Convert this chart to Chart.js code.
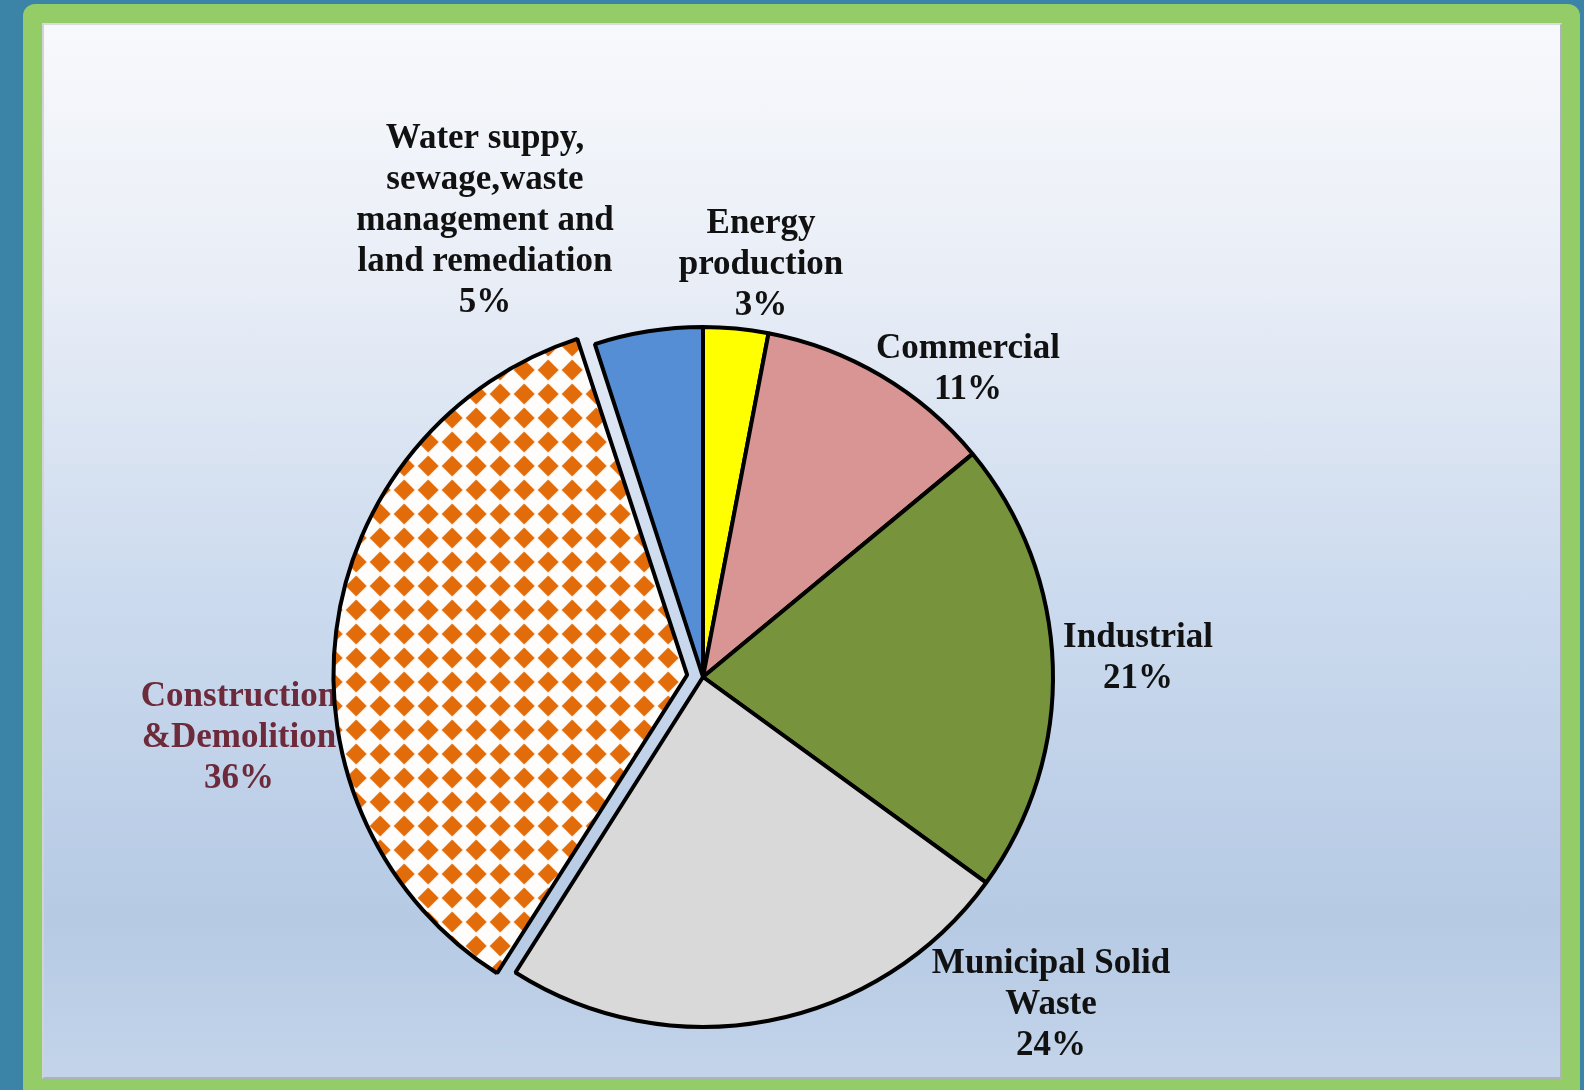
<!DOCTYPE html>
<html>
<head>
<meta charset="utf-8">
<title>Waste by sector</title>
<script src="https://cdn.jsdelivr.net/npm/chart.js@4"></script>
<style>
  html, body { margin: 0; padding: 0; }
  body {
    width: 1584px;
    height: 1090px;
    overflow: hidden;
    position: relative;
    background: #3b84a8;
  }
  #frame {
    position: absolute;
    left: 23px;
    top: 4px;
    width: 1557px;
    height: 1110px;
    background: #94cd68;
    border-radius: 12px;
  }
  #panel {
    position: absolute;
    left: 42px;
    top: 23px;
    width: 1516px;
    height: 1052px;
    border: 2px solid #aeb2b9;
    border-top-color: #d8dbe0;
    border-left-color: #d0d3d8;
    background: linear-gradient(to bottom, #f8f9fc 0%, #e8edf6 25%, #cbdaee 55%, #b6cae4 85%, #c3d4ea 100%);
  }
  #chart {
    position: absolute;
    left: 0;
    top: 0;
  }
</style>
</head>
<body>
<div id="frame"></div>
<div id="panel"></div>
<canvas id="chart" width="1584" height="1090"></canvas>
<script>
// Sectors, clockwise from 12 o'clock
const categories = [
    'Energy production',
    'Commercial',
    'Industrial',
    'Municipal Solid Waste',
    'Construction & Demolition',
    'Water suppy, sewage, waste management and land remediation'
];
const shares = [3, 11, 21, 24, 36, 5];

// How each label is broken into lines (last line is the percentage)
const labelLines = [
    ['Energy', 'production'],
    ['Commercial'],
    ['Industrial'],
    ['Municipal Solid', 'Waste'],
    ['Construction', '&Demolition'],
    ['Water suppy,', 'sewage,waste', 'management and', 'land remediation']
];

// Styles
const sliceColors = ['#ffff00', '#d99594', '#77933c', '#d9d9d9', null, '#558ed5'];
const labelColors = ['#111111', '#111111', '#111111', '#111111', '#6d2a3a', '#111111'];
// first-line centre of each label, relative to the pie centre
const labelOffsets = [[58, -453], [265, -328], [435, -39], [348, 287], [-464, 20], [-218, -538]];
const lineHeight = 41;

// orange diamond pattern for the construction slice
function diamondPattern() {
    const tile = document.createElement('canvas');
    tile.width = 24;
    tile.height = 24;
    const c = tile.getContext('2d');
    c.fillStyle = '#fffdfb';
    c.fillRect(0, 0, 24, 24);
    c.fillStyle = '#e36c0a';
    c.beginPath();
    c.moveTo(12, 1.5);
    c.lineTo(22.5, 12);
    c.lineTo(12, 22.5);
    c.lineTo(1.5, 12);
    c.closePath();
    c.fill();
    return c.createPattern(tile, 'repeat');
}

const ctx = document.getElementById('chart').getContext('2d');
const colors = sliceColors.map(col => col || diamondPattern());
const offsets = shares.map((v, i) => (i === 4 ? 64 : 0));

// draws the sector labels behind the slices
const sectorLabels = {
    id: 'sectorLabels',
    beforeDatasetsDraw(chart) {
        const meta = chart.getDatasetMeta(0);
        const c = chart.ctx;
        c.save();
        c.font = 'bold 35px "Liberation Serif", "Times New Roman", serif';
        c.textAlign = 'center';
        c.textBaseline = 'middle';
        meta.data.forEach((arc, i) => {
            const lines = labelLines[i].concat([shares[i] + '%']);
            const x = arc.x + labelOffsets[i][0];
            let y = arc.y + labelOffsets[i][1];
            c.fillStyle = labelColors[i];
            lines.forEach(line => {
                c.fillText(line, x, y);
                y += lineHeight;
            });
        });
        c.restore();
    }
};

new Chart(ctx, {
    type: 'pie',
    data: {
        labels: categories,
        datasets: [{
            data: shares,
            backgroundColor: colors,
            borderColor: '#000000',
            borderWidth: 4,
            offset: offsets,
            radius: 350
        }]
    },
    options: {
        responsive: false,
        animation: false,
        rotation: 0,
        layout: {
            padding: { left: 0, right: 178, top: 264, bottom: 0 }
        },
        plugins: {
            legend: { display: false },
            tooltip: { enabled: false }
        }
    },
    plugins: [sectorLabels]
});
</script>
</body>
</html>
